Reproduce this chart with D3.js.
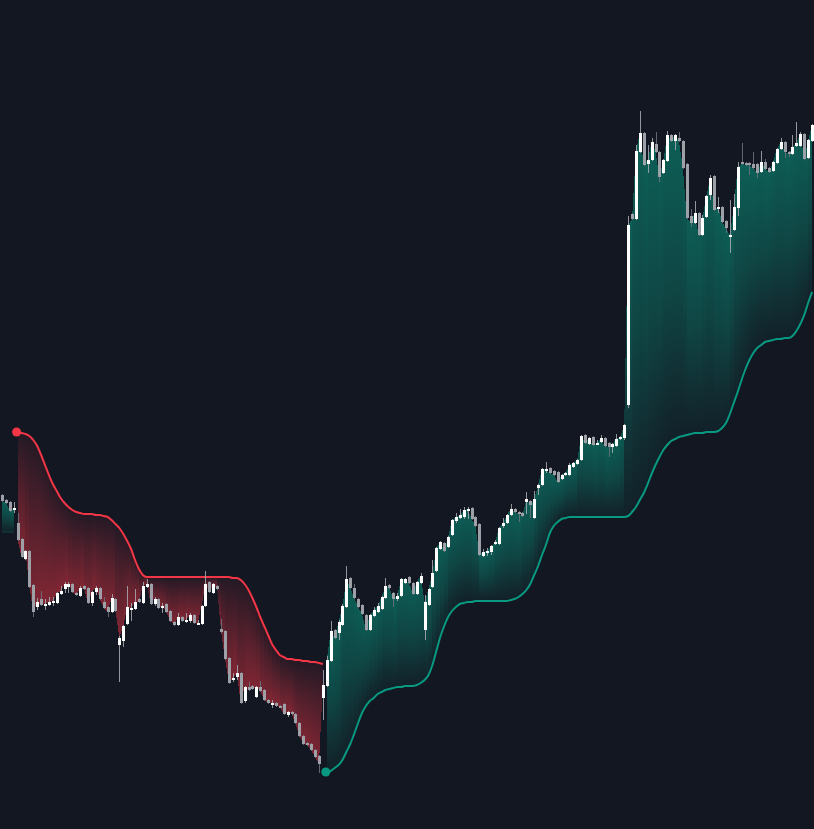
<!DOCTYPE html>
<html>
<head>
<meta charset="utf-8">
<script src="https://cdn.jsdelivr.net/npm/d3@7"></script>
<style>
html,body{margin:0;padding:0;background:#131722;overflow:hidden;}
svg{display:block;}
</style>
</head>
<body>
<svg id="chart" width="814" height="829"></svg>
<script>
// ---- DATA (price units) ----
const opens = [50.5,50.0,49.8,49.1,47.7,46.1,44.1,44.9,41.5,39.3,40.1,39.5,39.5,39.7,39.7,40.6,41.1,41.3,41.6,40.7,40.4,41.4,41.2,39.7,40.8,41.2,39.8,39.3,38.8,40.1,
35.5,35.9,37.6,39.1,39.1,40.1,39.7,41.3,41.6,39.6,40.1,39.2,39.6,38.9,37.8,37.5,38.3,37.9,37.9,38.5,37.6,37.6,39.4,41.8,40.7,41.4,37.1,36.9,34.2,32.0,
32.3,32.7,29.9,31.3,31.4,30.3,31.3,31.0,30.0,29.6,29.7,29.4,29.6,28.5,28.8,28.6,27.7,26.4,25.7,25.6,25.0,24.4,30.2,31.4,33.9,37.0,36.7,37.5,39.3,42.2,
41.2,40.1,39.5,38.5,37.0,38.4,38.8,39.1,40.2,41.5,40.7,40.1,40.4,41.7,42.3,41.7,40.6,41.7,37.0,39.5,41.3,42.9,45.1,45.7,45.3,46.5,47.9,48.2,48.3,48.9,
49.2,48.3,47.6,44.4,44.7,44.8,45.6,45.6,47.4,47.7,48.5,49.1,48.8,48.7,49.8,49.9,48.2,51.2,51.5,53.0,53.2,52.9,52.8,52.1,52.5,52.5,53.3,53.6,54.0,56.5,
55.6,56.3,55.6,55.8,56.2,55.7,55.3,55.4,56.1,56.2,59.5,78.6,78.1,84.8,86.7,83.6,84.0,85.6,84.8,82.7,83.9,86.5,85.9,86.2,85.9,83.6,78.4,77.7,78.7,76.5,
78.3,80.5,82.4,79.2,79.3,77.9,76.4,77.0,79.2,83.8,83.7,83.7,83.6,83.6,82.8,83.8,83.2,82.9,83.7,85.1,85.8,84.8,84.6,85.4,85.4,86.6,84.2,85.9];
const highs = [50.6,50.1,49.9,49.8,48.7,46.2,45.0,45.0,41.6,40.2,40.9,40.1,40.3,40.3,40.8,41.4,41.8,41.8,41.7,40.8,41.4,41.5,41.3,40.9,41.4,41.3,40.3,39.4,40.6,40.2,
36.4,37.5,41.4,39.7,41.1,40.2,41.8,42.1,41.7,40.3,40.2,39.7,39.7,39.0,37.9,38.7,38.4,38.7,38.7,38.6,38.0,39.5,42.9,41.9,41.7,41.5,38.1,37.0,34.3,32.7,
33.5,32.8,31.4,31.8,31.5,31.4,31.9,31.1,30.1,30.0,29.8,29.5,29.7,28.9,28.9,28.7,27.8,26.5,25.8,25.7,25.1,24.5,33.0,34.4,37.9,37.1,38.0,39.6,43.4,42.3,
41.6,40.2,39.6,38.6,38.6,39.3,39.7,40.4,42.2,41.6,40.8,40.7,42.2,42.2,42.4,41.8,41.9,42.7,40.5,41.2,44.0,45.3,45.9,45.8,46.4,48.1,48.7,49.1,49.3,49.3,
49.3,48.4,47.7,45.1,45.2,45.5,46.0,47.3,48.2,48.6,49.6,49.2,48.9,48.8,50.8,50.0,50.9,51.6,53.2,53.8,53.3,53.0,52.9,52.6,52.8,53.7,53.8,54.1,56.5,56.6,
56.3,56.4,56.0,56.5,56.3,55.8,55.7,56.6,56.4,57.6,78.4,78.7,85.5,88.9,86.8,85.5,86.2,86.8,84.9,84.1,86.9,86.6,86.6,86.8,86.0,83.7,79.1,79.9,78.8,78.5,
80.5,82.5,82.5,80.3,79.4,78.0,80.0,80.6,83.8,85.7,83.8,83.8,84.8,83.7,84.9,84.1,83.3,83.9,85.2,86.2,85.9,84.9,86.5,87.8,86.8,86.7,86.1,87.6];
const lows = [49.8,49.6,48.8,48.7,45.9,44.2,44.0,41.2,38.3,39.0,39.4,39.0,39.4,39.4,39.6,40.5,40.7,40.7,40.7,40.4,40.3,41.0,39.6,39.4,40.5,40.0,39.1,38.3,38.7,38.8,
31.8,35.3,37.5,37.9,39.0,39.7,39.6,41.2,39.5,39.4,39.1,38.7,38.7,37.8,37.4,37.4,37.8,37.7,37.7,37.6,37.5,37.5,39.3,40.7,40.6,41.0,36.7,34.0,31.6,31.8,
32.0,29.6,29.7,30.9,31.0,30.2,30.8,29.9,29.6,29.2,29.3,29.2,28.5,28.3,28.5,27.6,26.3,25.5,25.4,24.9,24.2,22.7,28.0,31.3,33.8,36.1,36.0,37.4,39.2,41.1,
40.1,39.2,38.5,36.9,36.9,38.3,38.7,39.0,40.1,41.1,39.3,39.9,40.3,41.6,41.6,40.5,40.5,41.6,36.0,39.4,41.2,42.8,45.0,44.8,45.2,46.4,47.7,48.1,48.1,48.1,
48.0,47.3,44.4,44.3,44.4,44.5,45.5,45.5,47.2,47.6,48.4,48.7,47.8,48.3,48.6,48.2,48.1,50.5,51.4,52.7,52.6,52.4,51.7,52.0,52.4,52.4,53.2,53.5,53.9,55.6,
55.5,55.4,55.5,55.7,55.3,54.3,54.7,55.3,56.0,56.0,59.2,78.0,78.0,84.7,83.4,82.7,83.9,84.7,81.8,82.6,83.8,85.8,85.0,85.8,83.1,78.1,77.3,77.6,76.4,76.4,
78.2,80.0,78.9,78.7,77.7,76.7,74.7,76.9,78.4,83.5,83.4,82.5,83.1,82.2,82.7,83.0,82.7,82.8,83.6,85.0,84.2,84.3,84.5,85.3,85.3,84.0,84.1,85.8];
const closes = [49.9,49.7,48.9,49.2,46.0,44.3,44.9,41.3,38.8,39.8,39.5,39.6,39.8,39.9,40.7,40.9,41.6,41.6,40.8,40.5,41.2,41.1,39.7,40.8,41.2,40.1,39.2,38.8,40.2,38.9,
36.2,37.4,39.3,39.2,39.8,39.8,41.4,41.6,39.6,40.1,39.2,39.4,38.8,37.9,37.5,38.3,37.9,38.0,38.5,37.7,37.7,39.4,41.6,40.8,41.6,41.1,36.8,34.1,31.7,32.2,
32.7,29.7,31.3,31.0,31.1,31.3,30.9,30.0,29.7,29.7,29.4,29.3,28.6,28.8,28.6,27.7,26.4,25.6,25.5,25.0,24.3,23.6,31.5,34.0,36.9,36.2,37.8,39.4,42.1,41.2,
40.2,39.3,38.6,37.0,38.5,39.0,39.4,40.3,41.4,41.2,40.1,40.4,42.1,42.1,41.7,40.6,41.8,42.4,39.8,41.1,42.7,45.2,45.8,44.9,46.3,48.0,48.3,48.5,49.0,49.1,
48.1,47.4,44.5,44.8,44.9,45.4,45.8,47.2,47.7,48.5,49.1,48.8,48.6,48.4,50.1,49.5,50.1,51.5,53.1,53.1,52.7,52.5,51.8,52.5,52.7,53.5,53.7,54.0,56.4,55.7,
56.2,55.5,55.7,56.2,55.4,55.3,55.6,56.1,56.3,57.5,77.5,78.1,84.9,86.7,83.5,84.0,85.8,84.8,82.3,84.0,86.5,85.9,86.5,85.9,83.2,78.2,77.7,78.7,76.5,78.2,
80.4,82.2,79.0,79.3,77.8,77.2,76.5,79.3,83.3,83.6,83.5,83.5,83.2,82.7,83.8,83.1,82.8,83.8,85.1,85.8,84.8,84.6,85.3,85.7,86.6,84.1,86.0,87.5];
// trailing stop level per bar
const trail = [46.8,46.8,46.8,46.8,
56.8,56.7,56.6,56.4,56.0,55.4,54.5,53.5,52.5,51.6,50.9,50.2,49.7,49.3,49.0,48.8,48.7,48.6,48.6,48.6,48.5,48.5,48.4,48.3,48.0,47.6,
47.2,46.6,45.9,45.1,44.0,43.1,42.5,42.3,42.3,42.3,42.3,42.3,42.3,42.3,42.3,42.3,42.3,42.3,42.3,42.3,42.3,42.3,42.3,42.3,42.3,42.3,42.3,42.3,42.3,42.2,
42.2,42.0,41.6,41.0,40.2,39.3,38.3,37.4,36.5,35.6,35.0,34.5,34.3,34.1,34.1,34.0,34.0,33.9,33.9,33.8,33.8,33.7,33.6,
22.8,22.9,23.2,23.5,24.0,24.8,25.6,26.6,27.7,28.7,29.4,29.9,30.2,30.6,30.8,31.0,31.1,31.2,31.3,31.3,31.4,31.4,31.4,31.5,31.7,32.0,32.5,
33.5,34.9,36.3,37.4,38.3,38.9,39.3,39.6,39.7,39.8,39.8,39.9,39.9,39.9,39.9,39.9,39.9,39.9,39.9,39.9,40.0,40.1,40.3,40.6,41.0,41.6,42.5,43.4,44.5,
45.5,46.7,47.4,47.8,48.1,48.2,48.3,48.3,48.3,48.3,48.3,48.3,48.3,48.3,48.3,48.3,48.3,48.3,48.3,48.3,48.3,48.4,48.8,49.3,50.0,50.7,51.6,52.6,53.5,54.3,
55.0,55.5,55.9,56.1,56.3,56.4,56.5,56.6,56.7,56.7,56.7,56.8,56.8,56.8,56.9,57.2,57.7,58.6,59.7,60.8,62.0,63.1,64.0,64.7,65.2,65.5,65.8,65.9,66.0,66.1,
66.1,66.2,66.2,66.4,66.9,67.6,68.5,69.7,70.8];
// trend regimes: direction, first bar, last bar
const regimeDir   = [1, -1, 1];
const regimeStart = [0, 4, 83];
const regimeEnd   = [3, 82, 207];
const regimeShowLine = [false, true, true];

// ---- CHART ----
const W = 814, H = 829;
const N = closes.length;
const svg = d3.select("#chart");
svg.append("rect").attr("width", W).attr("height", H).attr("fill", "#131722");

const x = d3.scaleBand().domain(d3.range(N)).range([0, W]).paddingInner(0.22).paddingOuter(0.11);
const y = d3.scaleLinear().domain([0, 100]).range([1000, 0]);
const cx = i => x(i) + x.bandwidth() / 2;

const defs = svg.append("defs");
const gUp = defs.append("linearGradient").attr("id", "gUp").attr("x1", 0).attr("y1", 0).attr("x2", 0).attr("y2", 1);
gUp.append("stop").attr("offset", 0).attr("stop-color", "#089981").attr("stop-opacity", 0.55);
gUp.append("stop").attr("offset", 0.5).attr("stop-color", "#089981").attr("stop-opacity", 0.36);
gUp.append("stop").attr("offset", 1).attr("stop-color", "#089981").attr("stop-opacity", 0.07);
const gDn = defs.append("linearGradient").attr("id", "gDn").attr("x1", 0).attr("y1", 0).attr("x2", 0).attr("y2", 1);
gDn.append("stop").attr("offset", 0).attr("stop-color", "#f23645").attr("stop-opacity", 0.07);
gDn.append("stop").attr("offset", 0.5).attr("stop-color", "#f23645").attr("stop-opacity", 0.3);
gDn.append("stop").attr("offset", 1).attr("stop-color", "#f23645").attr("stop-opacity", 0.5);

const fillG = svg.append("g");
const lineG = svg.append("g");
const candleG = svg.append("g");
const dotG = svg.append("g");

regimeDir.forEach((dir, r) => {
  const s = regimeStart[r], e = regimeEnd[r];
  const idx = d3.range(s, e);
  const grad = dir > 0 ? "url(#gUp)" : "url(#gDn)";
  fillG.selectAll(null).data(idx).enter().append("path")
    .attr("d", i => {
      const p = d3.path();
      p.moveTo(cx(i), y(trail[i]));
      p.lineTo(cx(i + 1), y(trail[i + 1]));
      p.lineTo(cx(i + 1), y(closes[i + 1]));
      p.lineTo(cx(i), y(closes[i]));
      p.closePath();
      return p.toString();
    })
    .attr("fill", grad)
    .attr("shape-rendering", "crispEdges");

  const pts = d3.range(s, e + 1);
  const line = d3.line().x(i => cx(i)).y(i => y(trail[i])).curve(d3.curveMonotoneX);
  const col = dir > 0 ? "#089981" : "#f23645";
  lineG.append("path").datum(pts)
    .attr("d", line)
    .attr("fill", "none")
    .attr("stroke", col)
    .attr("stroke-width", regimeShowLine[r] ? 2 : 1)
    .attr("stroke-opacity", regimeShowLine[r] ? 1 : 0.35);
  if (regimeShowLine[r]) {
    dotG.append("circle").attr("cx", cx(s) - 1).attr("cy", y(trail[s])).attr("r", 4.5).attr("fill", col);
  }
});

const bars = d3.range(N);
candleG.selectAll("line.wick").data(bars).enter().append("line")
  .attr("class", "wick")
  .attr("x1", i => Math.round(cx(i)) + 0.5)
  .attr("x2", i => Math.round(cx(i)) + 0.5)
  .attr("y1", i => y(highs[i]))
  .attr("y2", i => y(lows[i]))
  .attr("stroke", i => closes[i] >= opens[i] ? "#a9abb1" : "#6f737c")
  .attr("stroke-opacity", 0.85)
  .attr("stroke-width", 1);

candleG.selectAll("rect.body").data(bars).enter().append("rect")
  .attr("class", "body")
  .attr("x", i => Math.round(cx(i)) - 1)
  .attr("width", 3)
  .attr("y", i => y(Math.max(opens[i], closes[i])))
  .attr("height", i => Math.max(1.5, Math.abs(y(opens[i]) - y(closes[i]))))
  .attr("fill", i => closes[i] >= opens[i] ? "#ffffff" : "#9ea0a7")
  .attr("shape-rendering", "crispEdges");
</script>
</body>
</html>
